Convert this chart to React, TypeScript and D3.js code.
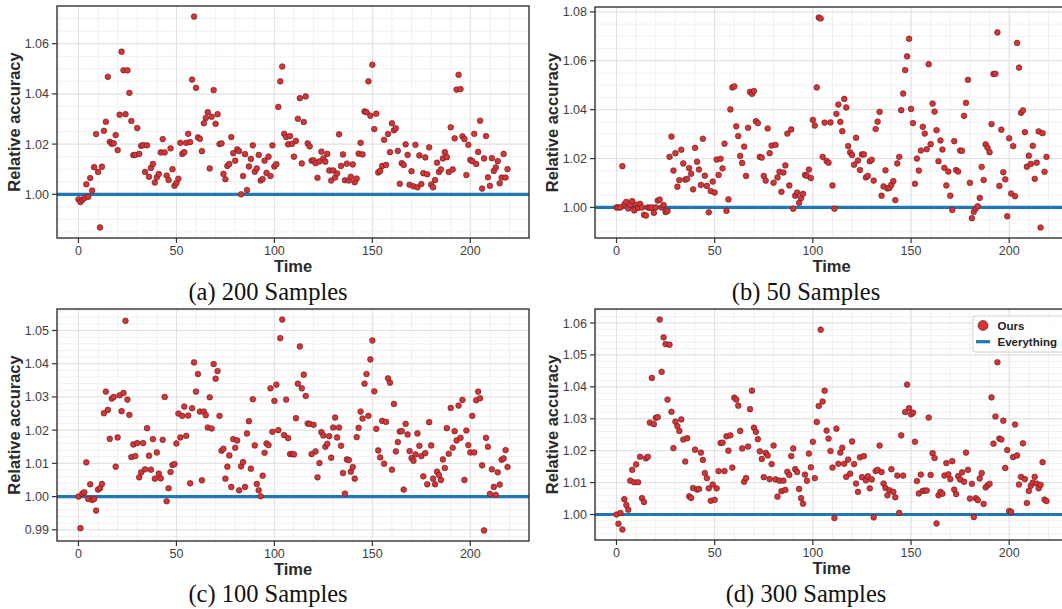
import React from 'react';
import * as d3 from 'd3';

// relative accuracy per time step (0..219)
const samples200 = [
  0.998, 0.9969, 0.9978, 0.9985, 1.004, 0.999, 1.0065, 1.0015, 1.0108, 1.024,
  1.0089, 0.9868, 1.011, 1.0253, 1.0289, 1.0468, 1.0209, 1.0201, 1.0203, 1.0236,
  1.0176, 1.0317, 1.0568, 1.0494, 1.0319, 1.0494, 1.0404, 1.0292, 1.0156, 1.0157,
  1.0264, 1.0161, 1.0193, 1.0196, 1.0089, 1.0195, 1.007, 1.0105, 1.0121, 1.0047,
  1.0068, 1.0081, 1.0167, 1.022, 1.0167, 1.0075, 1.0057, 1.0183, 1.01, 1.0034,
  1.0045, 1.0062, 1.0205, 1.0161, 1.0168, 1.0205, 1.0241, 1.0208, 1.0457, 1.0708,
  1.0424, 1.0227, 1.0221, 1.0172, 1.0283, 1.0304, 1.0327, 1.0103, 1.0309, 1.0415,
  1.0281, 1.0319, 1.02, 1.0203, 1.0081, 1.006, 1.0113, 1.0121, 1.0228, 1.0164,
  1.0134, 1.0179, 1.0172, 1.0, 1.0073, 1.016, 1.0017, 1.0111, 1.0141, 1.0195,
  1.009, 1.0103, 1.0157, 1.0055, 1.0061, 1.0134, 1.0085, 1.015, 1.0073, 1.0195,
  1.0111, 1.012, 1.0348, 1.045, 1.0509, 1.0241, 1.0228, 1.0199, 1.0232, 1.0201,
  1.015, 1.0213, 1.0301, 1.0383, 1.0123, 1.0288, 1.039, 1.0203, 1.0191, 1.0134,
  1.0135, 1.0124, 1.0066, 1.0131, 1.017, 1.0143, 1.013, 1.0161, 1.0095, 1.0055,
  1.0095, 1.0067, 1.0083, 1.0239, 1.0113, 1.0159, 1.0056, 1.0122, 1.0055, 1.007,
  1.0119, 1.0048, 1.0063, 1.0162, 1.0205, 1.0159, 1.033, 1.0327, 1.045, 1.0313,
  1.0516, 1.026, 1.0321, 1.0087, 1.0093, 1.0113, 1.0217, 1.0117, 1.024, 1.0168,
  1.0283, 1.0255, 1.0263, 1.0173, 1.0042, 1.0124, 1.0117, 1.0199, 1.0157, 1.0038,
  1.0092, 1.0032, 1.0197, 1.0028, 1.0155, 1.0041, 1.0084, 1.0147, 1.008, 1.0187,
  1.0039, 1.0028, 1.0057, 1.0126, 1.0089, 1.0099, 1.0143, 1.0168, 1.0148, 1.0089,
  1.0267, 1.0099, 1.0223, 1.0417, 1.0476, 1.0419, 1.0231, 1.022, 1.0077, 1.0197,
  1.0137, 1.0132, 1.0241, 1.0121, 1.0169, 1.0293, 1.0023, 1.0143, 1.0232, 1.0068,
  1.0034, 1.0144, 1.0093, 1.0107, 1.0132, 1.0044, 1.0067, 1.0161, 1.0067, 1.01,
];

const samples50 = [
  1.0, 1.0, 1.0, 1.0169, 1.0013, 1.0023, 0.9996, 1.0011, 1.0026, 0.9988,
  1.0011, 0.9998, 1.0015, 1.0, 0.997, 0.9967, 1.0, 0.9998, 1.0, 0.9978,
  1.0, 1.0028, 1.0032, 1.0, 1.001, 0.9981, 0.9986, 1.0207, 1.029, 1.0151,
  1.0222, 1.0085, 1.0112, 1.0236, 1.018, 1.0114, 1.0117, 1.0161, 1.0138, 1.0074,
  1.0244, 1.0187, 1.0155, 1.0092, 1.0281, 1.013, 1.0088, 0.998, 1.0067, 1.0106,
  1.0061, 1.0196, 1.0133, 1.0199, 1.016, 1.0261, 0.9986, 1.0033, 1.0401, 1.0491,
  1.0495, 1.0332, 1.0292, 1.0211, 1.0182, 1.0249, 1.0129, 1.0326, 1.0473, 1.0465,
  1.0476, 1.0353, 1.0345, 1.0207, 1.0204, 1.0129, 1.011, 1.0323, 1.0222, 1.0253,
  1.0101, 1.0256, 1.0123, 1.0146, 1.0064, 1.0143, 1.0172, 1.0302, 1.009, 1.0319,
  0.9995, 1.0048, 1.0061, 1.0019, 1.0038, 1.0056, 1.0133, 1.0129, 1.0155, 1.012,
  1.0358, 1.0335, 1.0491, 1.0777, 1.0773, 1.0207, 1.0347, 1.019, 1.0183, 1.0348,
  1.009, 0.9995, 1.0383, 1.0421, 1.035, 1.0312, 1.0444, 1.0409, 1.0251, 1.0225,
  1.0215, 1.0175, 1.0285, 1.0192, 1.0153, 1.0217, 1.0217, 1.0123, 1.0129, 1.0189,
  1.0195, 1.011, 1.0321, 1.0351, 1.0391, 1.0048, 1.0086, 1.0152, 1.0078, 1.008,
  1.0093, 1.0108, 1.003, 1.018, 1.0207, 1.0398, 1.0466, 1.0562, 1.0618, 1.069,
  1.0403, 1.0345, 1.0097, 1.02, 1.0151, 1.0233, 1.033, 1.0302, 1.0238, 1.0586,
  1.0259, 1.0425, 1.0392, 1.0316, 1.0189, 1.0274, 1.0237, 1.0162, 1.009, 1.0147,
  1.0048, 0.999, 1.0271, 1.0153, 1.0147, 1.0233, 1.0232, 1.0375, 1.0428, 1.0522,
  1.0101, 0.9956, 0.9982, 0.9996, 1.0005, 1.0039, 1.0166, 1.0112, 1.0258, 1.0244,
  1.0226, 1.0341, 1.0546, 1.0547, 1.0716, 1.0088, 1.0318, 1.0144, 1.0115, 0.9964,
  1.0283, 1.0057, 1.0251, 1.0046, 1.0673, 1.0572, 1.0387, 1.0397, 1.0308, 1.0167,
  1.0212, 1.0178, 1.0252, 1.0117, 1.0183, 1.0311, 0.9918, 1.0304, 1.0146, 1.0207,
];

const samples100 = [
  1.0, 0.9905, 1.0009, 1.0013, 1.0103, 0.9993, 1.0037, 0.999, 0.9993, 0.9958,
  1.0021, 1.0025, 1.0038, 1.0251, 1.0316, 1.0261, 1.0174, 1.0295, 1.03, 1.009,
  1.0178, 1.0305, 1.0257, 1.0312, 1.0529, 1.0292, 1.0246, 1.0119, 1.0157, 1.0122,
  1.0161, 1.0058, 1.0073, 1.0161, 1.0082, 1.0206, 1.0123, 1.0081, 1.0173, 1.0054,
  1.0133, 1.0069, 1.0055, 1.0171, 1.03, 0.9986, 1.0025, 1.0074, 1.0095, 1.0098,
  1.016, 1.025, 1.0178, 1.0243, 1.0271, 1.0183, 1.0244, 1.004, 1.0266, 1.0404,
  1.0316, 1.0369, 1.0256, 1.0049, 1.0256, 1.0245, 1.0208, 1.0299, 1.0205, 1.0399,
  1.0355, 1.0378, 1.0243, 1.0138, 1.0144, 1.0054, 1.009, 1.0124, 1.0029, 1.0173,
  1.0147, 1.0169, 1.0019, 1.0091, 1.0104, 1.0029, 1.019, 1.0227, 1.0084, 1.0293,
  1.0154, 1.0038, 1.0019, 1.0001, 1.0063, 1.0132, 1.016, 1.0155, 1.0326, 1.0195,
  1.0288, 1.0337, 1.02, 1.0477, 1.0533, 1.0185, 1.0292, 1.0176, 1.0128, 1.0128,
  1.0127, 1.0236, 1.034, 1.0452, 1.0326, 1.0367, 1.0303, 1.022, 1.0219, 1.0128,
  1.0216, 1.0136, 1.0058, 1.0101, 1.0194, 1.0184, 1.015, 1.0159, 1.0182, 1.0117,
  1.0208, 1.0238, 1.0178, 1.0208, 1.0153, 1.0071, 1.0009, 1.0112, 1.011, 1.0075,
  1.0089, 1.0054, 1.0179, 1.0207, 1.0256, 1.0235, 1.034, 1.0369, 1.0243, 1.0413,
  1.047, 1.0317, 1.0204, 1.0139, 1.0118, 1.0228, 1.0099, 1.0225, 1.0356, 1.0343,
  1.0081, 1.0279, 1.0136, 1.0164, 1.0196, 1.0197, 1.0021, 1.0219, 1.0187, 1.0137,
  1.0116, 1.0108, 1.0127, 1.019, 1.0153, 1.0122, 1.0061, 1.0131, 1.0037, 1.0224,
  1.0154, 1.0054, 1.0037, 1.0075, 1.0065, 1.005, 1.0112, 1.0086, 1.0206, 1.0129,
  1.0267, 1.0147, 1.0197, 1.0169, 1.0274, 1.0177, 1.0291, 1.005, 1.0199, 1.0155,
  1.0133, 1.0243, 1.0133, 1.029, 1.0316, 1.0296, 1.0094, 0.9898, 1.0177, 1.015,
  1.0008, 1.0082, 1.0029, 1.0005, 1.0073, 1.0036, 1.0111, 1.0115, 1.014, 1.0089,
];

const samples300 = [
  1.0, 0.9971, 1.0005, 0.9953, 1.0048, 1.003, 1.0015, 1.0106, 1.014, 1.0101,
  1.0157, 1.0101, 1.0181, 1.0051, 1.0039, 1.0176, 1.0181, 1.0288, 1.0428, 1.0283,
  1.0303, 1.0305, 1.0611, 1.0447, 1.0555, 1.0534, 1.036, 1.0532, 1.0322, 1.0208,
  1.0291, 1.0277, 1.0262, 1.0298, 1.0235, 1.0166, 1.0239, 1.0057, 1.0052, 1.0083,
  1.0203, 1.0078, 1.008, 1.0194, 1.0171, 1.013, 1.0114, 1.0082, 1.0043, 1.0094,
  1.0046, 1.0082, 1.0136, 1.0224, 1.0225, 1.0136, 1.0245, 1.02, 1.0248, 1.0147,
  1.0366, 1.036, 1.0341, 1.0262, 1.0207, 1.0103, 1.0114, 1.0213, 1.033, 1.0388,
  1.0272, 1.0259, 1.0236, 1.0198, 1.0174, 1.0117, 1.0193, 1.0185, 1.0111, 1.0158,
  1.0216, 1.011, 1.0056, 1.0106, 1.0073, 1.0106, 1.0077, 1.0134, 1.0124, 1.0183,
  1.0207, 1.0142, 1.0133, 1.008, 1.0051, 1.0034, 1.0125, 1.0106, 1.0191, 1.0148,
  1.0228, 1.0114, 1.029, 1.034, 1.0579, 1.0354, 1.0388, 1.0263, 1.0238, 1.0199,
  1.0147, 0.9989, 1.0269, 1.0159, 1.0194, 1.0209, 1.0159, 1.0118, 1.0172, 1.0128,
  1.0229, 1.0158, 1.0097, 1.0071, 1.0179, 1.0117, 1.0183, 1.0107, 1.012, 1.0082,
  1.011, 0.9991, 1.0136, 1.014, 1.0216, 1.0133, 1.0097, 1.0083, 1.006, 1.0076,
  1.0142, 1.0071, 1.0054, 1.0122, 1.0005, 1.0248, 1.0122, 1.0321, 1.0407, 1.0333,
  1.0314, 1.0319, 1.0228, 1.0105, 1.0066, 1.0125, 1.0074, 1.0075, 1.0075, 1.0304,
  1.0124, 1.0192, 1.0177, 0.9972, 1.006, 1.0071, 1.0065, 1.0122, 1.0161, 1.0126,
  1.0111, 1.0167, 1.0078, 1.0064, 1.012, 1.011, 1.0132, 1.0103, 1.0194, 1.014,
  1.005, 1.0096, 0.9992, 1.0051, 1.0045, 1.0113, 1.013, 1.0033, 1.0085, 1.0091,
  1.0096, 1.0367, 1.0222, 1.0307, 1.0477, 1.0238, 1.0235, 1.0294, 1.0146, 1.0202,
  1.0011, 1.0008, 1.018, 1.0282, 1.0185, 1.0094, 1.0118, 1.0223, 1.0111, 1.0036,
  1.0074, 1.009, 1.01, 1.0118, 1.0097, 1.0082, 1.0093, 1.0164, 1.0047, 1.0042,
];

const baseline = 1.0; // "Everything"
const xTicks = [0, 50, 100, 150, 200];
const yTicks200 = [1.0, 1.02, 1.04, 1.06];
const yTicks50 = [1.0, 1.02, 1.04, 1.06, 1.08];
const yTicks100 = [0.99, 1.0, 1.01, 1.02, 1.03, 1.04, 1.05];
const yTicks300 = [1.0, 1.01, 1.02, 1.03, 1.04, 1.05, 1.06];
const captions = ['(a) 200 Samples', '(b) 50 Samples', '(c) 100 Samples', '(d) 300 Samples'];
const legendLabels = ['Ours', 'Everything'];

const RED = '#d63437';
const BLUE = '#1f77b4';
const SANS = '"Liberation Sans", Arial, Helvetica, sans-serif';

type Frame = { left: number; top: number; right: number; bottom: number };

function Panel({ values, frame, yTicks, minorStep, caption, capX, capY, legend }: {
  values: number[]; frame: Frame; yTicks: number[]; minorStep: number;
  caption: string; capX: number; capY: number; legend?: boolean;
}) {
  const n = values.length - 1;
  const x = d3.scaleLinear().domain([-0.05 * n, n * 1.05]).range([frame.left, frame.right]);
  const [lo, hi] = d3.extent(values) as [number, number];
  const pad = (hi - lo) * 0.05;
  const y = d3.scaleLinear().domain([lo - pad, hi + pad]).range([frame.bottom, frame.top]);
  const [y0, y1] = y.domain();
  const yMinor = d3.range(Math.ceil(y0 / minorStep) * minorStep, y1, minorStep);
  const xMinor = d3.range(-10, n * 1.05, 10);
  const fmt = d3.format('.2f');
  const cx = (frame.left + frame.right) / 2;
  const cy = (frame.top + frame.bottom) / 2;

  return (
    <g>
      <rect x={frame.left} y={frame.top} width={frame.right - frame.left} height={frame.bottom - frame.top} fill="#fff" />
      {xMinor.map((t) => (
        <line key={'xm' + t} x1={x(t)} x2={x(t)} y1={frame.top} y2={frame.bottom} stroke="#eeeeee" strokeWidth={0.8} />
      ))}
      {yMinor.map((t, i) => (
        <line key={'ym' + i} x1={frame.left} x2={frame.right} y1={y(t)} y2={y(t)} stroke="#eeeeee" strokeWidth={0.8} />
      ))}
      {xTicks.map((t) => (
        <line key={'xg' + t} x1={x(t)} x2={x(t)} y1={frame.top} y2={frame.bottom} stroke="#e0e0e0" strokeWidth={1} />
      ))}
      {yTicks.map((t) => (
        <line key={'yg' + t} x1={frame.left} x2={frame.right} y1={y(t)} y2={y(t)} stroke="#e0e0e0" strokeWidth={1} />
      ))}
      <line x1={frame.left} x2={frame.right} y1={y(baseline)} y2={y(baseline)} stroke={BLUE} strokeWidth={3.2} />
      {values.map((v, i) => (
        <circle key={i} cx={x(i)} cy={y(v)} r={2.85} fill={RED} stroke="#5a1c1c" strokeWidth={0.6} />
      ))}
      <rect x={frame.left} y={frame.top} width={frame.right - frame.left} height={frame.bottom - frame.top}
        fill="none" stroke="#333" strokeWidth={1.4} />
      {xTicks.map((t) => (
        <g key={'xt' + t}>
          <line x1={x(t)} x2={x(t)} y1={frame.bottom} y2={frame.bottom + 5} stroke="#333" strokeWidth={1.2} />
          <text x={x(t)} y={frame.bottom + 17} textAnchor="middle" fontFamily={SANS} fontSize={12.5} fill="#404040">{t}</text>
        </g>
      ))}
      {yTicks.map((t) => (
        <g key={'yt' + t}>
          <line x1={frame.left - 5} x2={frame.left} y1={y(t)} y2={y(t)} stroke="#333" strokeWidth={1.2} />
          <text x={frame.left - 8} y={y(t)} dy="0.36em" textAnchor="end" fontFamily={SANS} fontSize={12.5} fill="#404040">{fmt(t)}</text>
        </g>
      ))}
      <text x={cx} y={frame.bottom + 34} textAnchor="middle" fontFamily={SANS} fontWeight="bold" fontSize={16.5} fill="#2a2a2a">Time</text>
      <text transform={`translate(${frame.left - 37},${cy}) rotate(-90)`} textAnchor="middle" fontFamily={SANS}
        fontWeight="bold" fontSize={16.5} fill="#2a2a2a">Relative accuracy</text>
      <text x={capX} y={capY} textAnchor="middle" fontFamily='"Liberation Serif", "Times New Roman", serif' fontSize={24.5} fill="#111">{caption}</text>
      {legend && (
        <g>
          <rect x={973} y={316} width={95} height={36} rx={2} fill="#fff" fillOpacity={0.9} stroke="#d0d0d0" strokeWidth={1} />
          <circle cx={983} cy={325.5} r={5} fill={RED} stroke="#5a1c1c" strokeWidth={0.6} />
          <text x={997.5} y={325.5} dy="0.36em" fontFamily={SANS} fontWeight="bold" fontSize={11.5} fill="#222">{legendLabels[0]}</text>
          <line x1={976} x2={990} y1={341.7} y2={341.7} stroke={BLUE} strokeWidth={3.2} />
          <text x={997.5} y={341.7} dy="0.36em" fontFamily={SANS} fontWeight="bold" fontSize={11.5} fill="#222">{legendLabels[1]}</text>
        </g>
      )}
    </g>
  );
}

export default function App() {
  return (
    <svg width={1062} height={609} style={{ position: 'absolute', left: 0, top: 0, background: '#fff' }}>
      <Panel values={samples200} frame={{ left: 57, top: 6, right: 529, bottom: 238 }} yTicks={yTicks200}
        minorStep={0.005} caption={captions[0]} capX={268} capY={300} />
      <Panel values={samples50} frame={{ left: 595, top: 7, right: 1068, bottom: 238 }} yTicks={yTicks50}
        minorStep={0.005} caption={captions[1]} capX={806} capY={300} />
      <Panel values={samples100} frame={{ left: 57, top: 309, right: 529, bottom: 541 }} yTicks={yTicks100}
        minorStep={0.002} caption={captions[2]} capX={268} capY={602} />
      <Panel values={samples300} frame={{ left: 595, top: 309, right: 1068, bottom: 540 }} yTicks={yTicks300}
        minorStep={0.002} caption={captions[3]} capX={806} capY={602} legend />
    </svg>
  );
}
